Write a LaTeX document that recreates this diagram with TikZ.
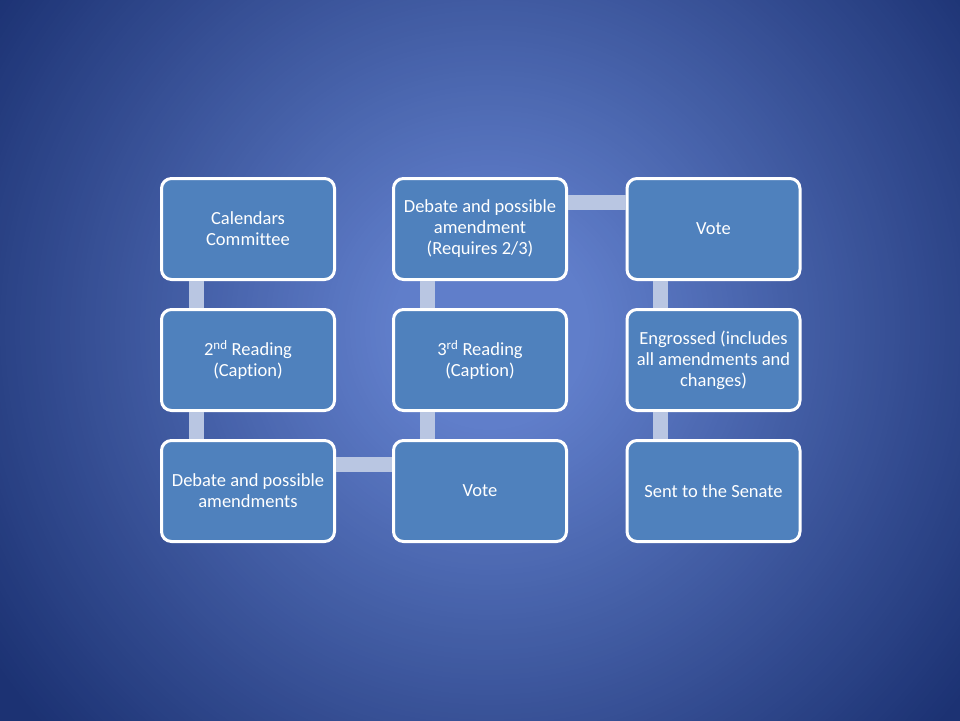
\documentclass[tikz,border=0pt]{standalone}
\usepackage{fontspec}
\setmainfont{Carlito}[Ligatures=NoCommon]
\definecolor{bgin}{RGB}{96,126,202}
\definecolor{bgout}{RGB}{28,50,115}
\definecolor{boxblue}{RGB}{79,129,189}
\definecolor{linkblue}{RGB}{185,198,226}

\begin{document}
\begin{tikzpicture}[x=1pt,y=1pt]
\tikzstyle{stepbox}=[draw=white, line width=3pt, fill=boxblue, rounded corners=10pt, minimum width=173pt, minimum height=101pt, inner sep=0pt, text=white, align=center, font=\fontsize{18.5}{21}\selectfont]
\tikzstyle{link}=[draw=linkblue, line width=15pt]
\useasboundingbox (0,0) rectangle (960,-720);
\fill [bgout] (-10,10) rectangle (970,-730);
\foreach \r in {600,595,...,100} {
  \pgfmathsetmacro\p{(600-\r)/5}
  \fill [bgin!\p!bgout] (490,-330) circle (\r);
}
\node [stepbox] (cal) at (248,-229) {Calendars\\Committee};
\node [stepbox] (read2) at (248,-360) {2\textsuperscript{nd} Reading\\(Caption)};
\node [stepbox] (deb) at (248,-491) {Debate and possible\\amendments};
\node [stepbox] (vote1) at (480,-491) {Vote};
\node [stepbox] (read3) at (480,-360) {3\textsuperscript{rd} Reading\\(Caption)};
\node [stepbox] (deb3) at (480,-229) {Debate and possible\\amendment\\(Requires 2/3)};
\node [stepbox] (vote2) at (713.5,-229) {Vote};
\node [stepbox] (engr) at (713.5,-360) {Engrossed (includes\\all amendments and\\changes)};
\node [stepbox] (senate) at (713.5,-491) {Sent to the Senate};
\draw [link] ([xshift=36pt]cal.south west) -- ([xshift=36pt]read2.north west);
\draw [link] ([xshift=36pt]read2.south west) -- ([xshift=36pt]deb.north west);
\draw [link] ([yshift=-25pt]deb.north east) -- ([yshift=-25pt]vote1.north west);
\draw [link] ([xshift=35pt]vote1.north west) -- ([xshift=35pt]read3.south west);
\draw [link] ([xshift=35pt]read3.north west) -- ([xshift=35pt]deb3.south west);
\draw [link] ([yshift=-25pt]deb3.north east) -- ([yshift=-25pt]vote2.north west);
\draw [link] ([xshift=35pt]vote2.south west) -- ([xshift=35pt]engr.north west);
\draw [link] ([xshift=35pt]engr.south west) -- ([xshift=35pt]senate.north west);
\end{tikzpicture}
\end{document}
